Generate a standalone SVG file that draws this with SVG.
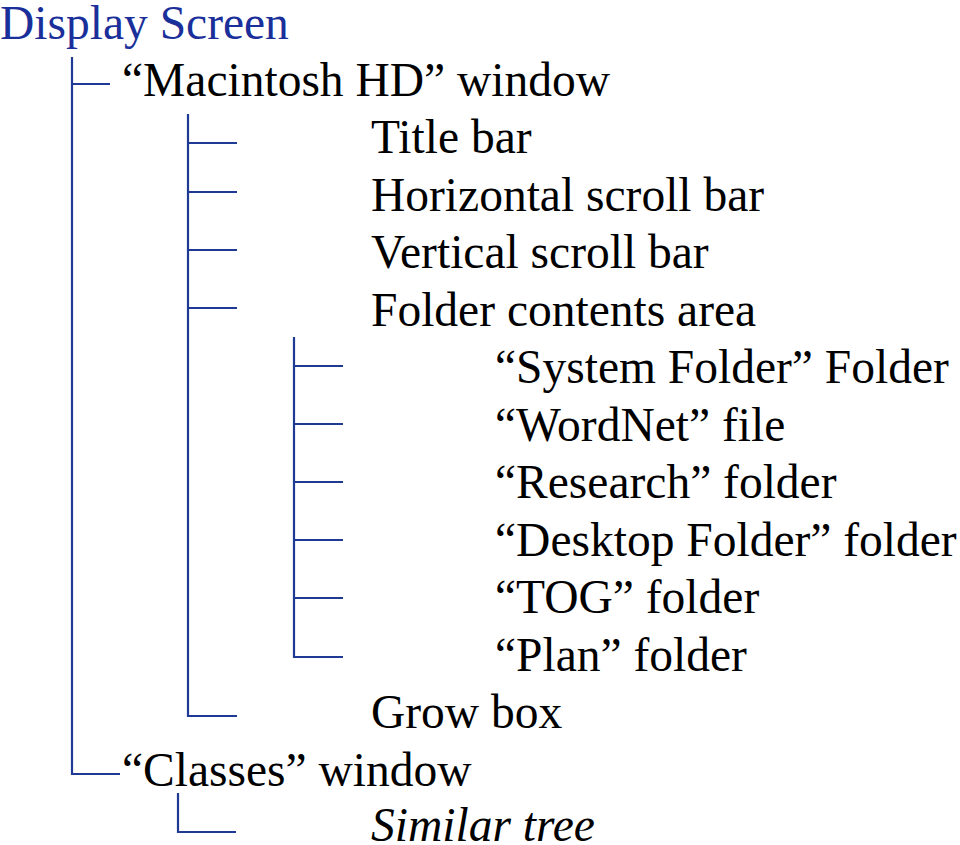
<svg xmlns="http://www.w3.org/2000/svg" width="960" height="845" viewBox="0 0 960 845">
<style>
text{font-size:47.5px;fill:#000}
.root{fill:#1a2f9a}
.it{font-style:italic}
.c line{stroke:#1f3a94;stroke-width:2.2;fill:none}
</style>
<rect width="960" height="845" fill="#fff"/>
<g class="c" id="connectors">
<line x1="72" y1="57" x2="72" y2="775"/>
<line x1="71" y1="84" x2="110" y2="84"/>
<line x1="71" y1="774" x2="120" y2="774"/>
<line x1="188" y1="114" x2="188" y2="717"/>
<line x1="187" y1="143" x2="237" y2="143"/>
<line x1="187" y1="192" x2="237" y2="192"/>
<line x1="187" y1="250" x2="237" y2="250"/>
<line x1="187" y1="308" x2="237" y2="308"/>
<line x1="187" y1="716" x2="237" y2="716"/>
<line x1="294" y1="337" x2="294" y2="658"/>
<line x1="293" y1="366" x2="343" y2="366"/>
<line x1="293" y1="424" x2="343" y2="424"/>
<line x1="293" y1="482" x2="343" y2="482"/>
<line x1="293" y1="540" x2="343" y2="540"/>
<line x1="293" y1="598" x2="343" y2="598"/>
<line x1="293" y1="657" x2="343" y2="657"/>
<line x1="178" y1="793" x2="178" y2="833"/>
<line x1="177" y1="832" x2="236" y2="832"/>
</g>
<g font-family="Liberation Serif, Tinos, DejaVu Serif, serif">
<g id="n-display"><text class="root" x="0" y="39">Display Screen</text></g>
<g id="n-mac"><text x="122" y="95.5">“Macintosh HD” window</text></g>
<g id="n-title"><text x="371" y="153">Title bar</text></g>
<g id="n-hscroll"><text x="371" y="210.5">Horizontal scroll bar</text></g>
<g id="n-vscroll"><text x="371" y="268">Vertical scroll bar</text></g>
<g id="n-folder"><text x="371" y="325.5">Folder contents area</text></g>
<g id="n-system"><text x="495" y="383">“System Folder” Folder</text></g>
<g id="n-wordnet"><text x="495" y="440.5">“WordNet” file</text></g>
<g id="n-research"><text x="495" y="498">“Research” folder</text></g>
<g id="n-desktop"><text x="495" y="555.5">“Desktop Folder” folder</text></g>
<g id="n-tog"><text x="495" y="613">“TOG” folder</text></g>
<g id="n-plan"><text x="495" y="670.5">“Plan” folder</text></g>
<g id="n-grow"><text x="371" y="728">Grow box</text></g>
<g id="n-classes"><text x="122" y="785.5">“Classes” window</text></g>
<g id="n-similar"><text class="it" x="371" y="841">Similar tree</text></g>
</g>
</svg>
